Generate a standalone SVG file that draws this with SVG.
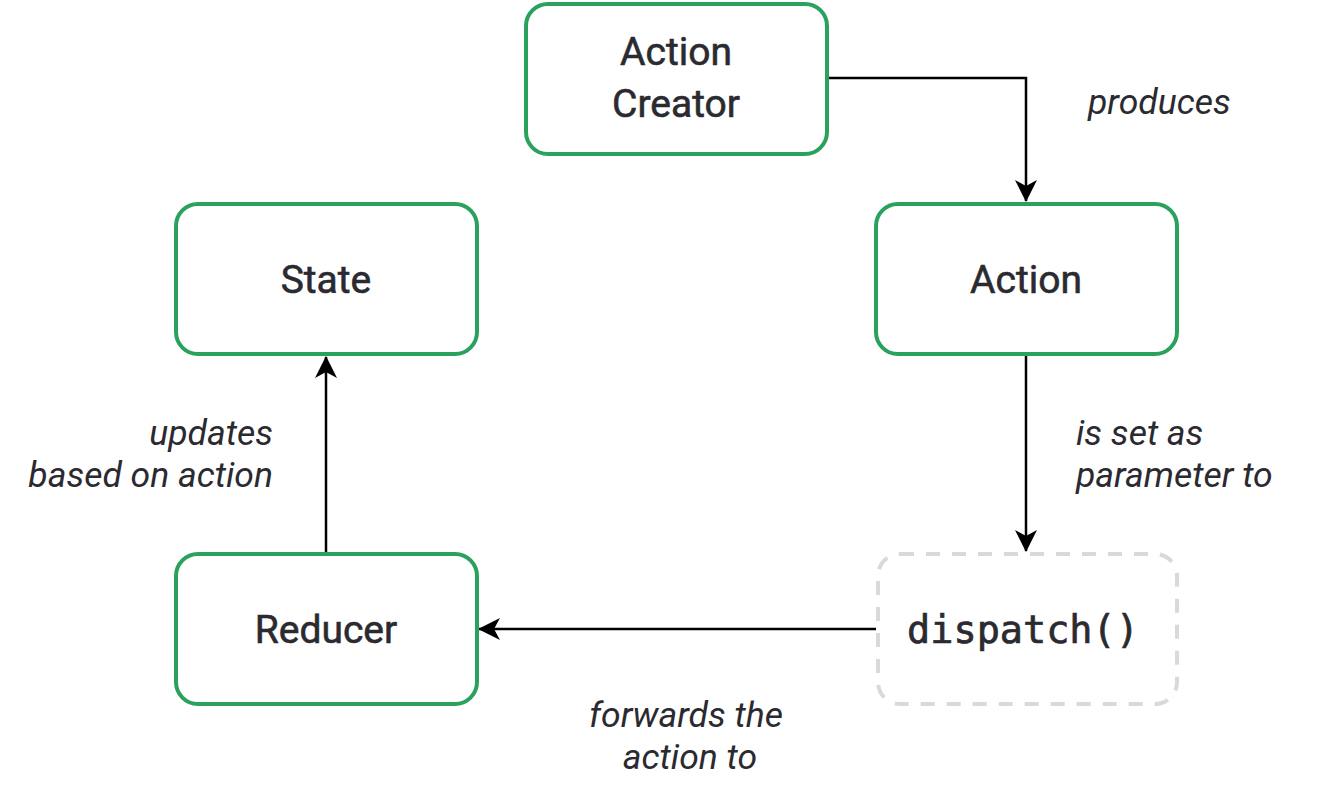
<svg xmlns="http://www.w3.org/2000/svg" width="1323" height="788" viewBox="0 0 1323 788">
<style>
.node{fill:#fff;stroke:#2aa15c;stroke-width:4}
.dash{fill:#fff;stroke:#d9d9d9;stroke-width:4;stroke-dasharray:14 12}
.lbl{font-family:Roboto,"Liberation Sans",sans-serif;font-size:39px;fill:#2a2a30;stroke:#2a2a30;stroke-width:0.6;text-anchor:middle;font-weight:400}
.mono{font-family:"DejaVu Sans Mono","Liberation Mono",monospace;font-size:38.5px;fill:#2a2a30;stroke:#2a2a30;stroke-width:0.7;text-anchor:middle}
.edge{font-family:Roboto,"Liberation Sans",sans-serif;font-size:35.5px;font-style:italic;fill:#2a2a30}
.conn{fill:none;stroke:#000;stroke-width:2.5}
</style>
<defs>
<marker id="a" viewBox="0 0 22 22" refX="21" refY="11" markerWidth="22" markerHeight="22" markerUnits="userSpaceOnUse" orient="auto">
<path d="M0,0 L22,11 L0,22 L6,11 z" fill="#000"/>
</marker>
</defs>
<g id="connectors">
<path class="conn" d="M827,78 H1026 V201" marker-end="url(#a)"/>
<path class="conn" d="M1026,354 V551" marker-end="url(#a)"/>
<path class="conn" d="M876,629 H479" marker-end="url(#a)"/>
<path class="conn" d="M326,552 V357" marker-end="url(#a)"/>
<text class="edge" x="1088" y="114">produces</text>
<text class="edge" x="1076" y="445">is set as</text>
<text class="edge" x="1076" y="487">parameter to</text>
<text class="edge" x="273" y="445" text-anchor="end">updates</text>
<text class="edge" x="273" y="487" text-anchor="end">based on action</text>
<text class="edge" x="686" y="727" text-anchor="middle">forwards the</text>
<text class="edge" x="690" y="769" text-anchor="middle">action to</text>
</g>
<g id="action-creator">
<rect class="node" x="526" y="4" width="301" height="150" rx="22"/>
<text class="lbl" x="676" y="65">Action</text>
<text class="lbl" x="676" y="117">Creator</text>
</g>
<g id="state">
<rect class="node" x="176" y="204" width="301" height="150" rx="22"/>
<text class="lbl" x="326" y="293">State</text>
</g>
<g id="action">
<rect class="node" x="876" y="204" width="301" height="150" rx="22"/>
<text class="lbl" x="1026" y="293">Action</text>
</g>
<g id="reducer">
<rect class="node" x="176" y="554" width="301" height="150" rx="22"/>
<text class="lbl" x="326" y="643">Reducer</text>
</g>
<g id="dispatch">
<rect class="dash" x="878" y="554" width="299" height="150" rx="22"/>
<text class="mono" x="1023" y="643">dispatch()</text>
</g>
</svg>
